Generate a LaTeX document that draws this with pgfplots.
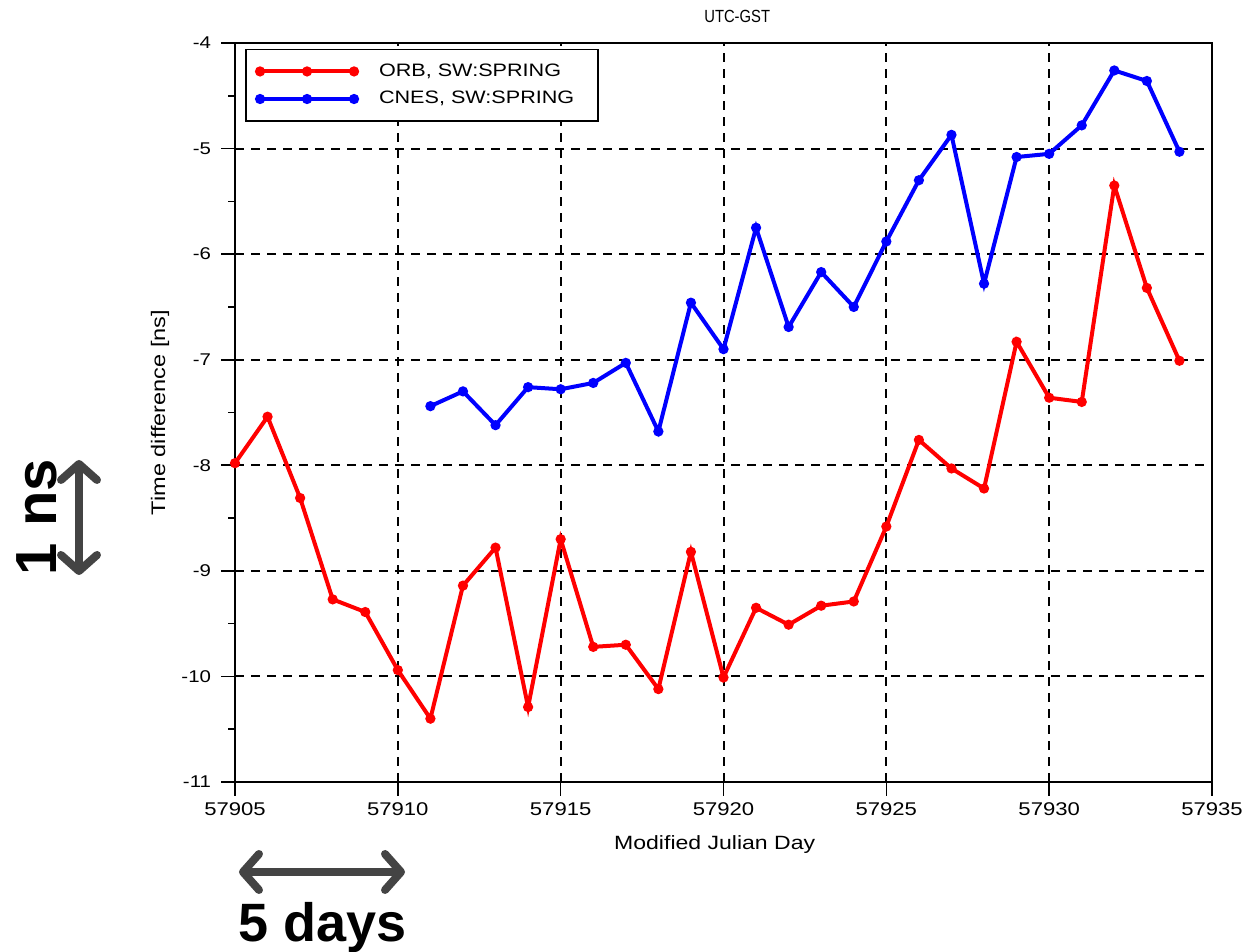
\documentclass[border=0pt]{standalone}
\usepackage{pgfplots}
\pgfplotsset{compat=1.18}
\usepackage{fontspec}
\setmainfont{Liberation Sans}[FakeStretch=1.2]
\newfontfamily\titlefont{Liberation Sans}[FakeStretch=0.84]
\newfontfamily\annotfont{Liberation Sans}
\usetikzlibrary{arrows.meta}
\definecolor{annotgray}{HTML}{444444}

\pgfplotstableread{
x y
57905 -7.98
57906 -7.54
57907 -8.31
57908 -9.27
57909 -9.39
57910 -9.94
57911 -10.40
57912 -9.14
57913 -8.78
57914 -10.29
57915 -8.70
57916 -9.72
57917 -9.70
57918 -10.12
57919 -8.82
57920 -10.01
57921 -9.35
57922 -9.51
57923 -9.33
57924 -9.29
57925 -8.58
57926 -7.76
57927 -8.03
57928 -8.22
57929 -6.83
57930 -7.36
57931 -7.40
57932 -5.35
57933 -6.32
57934 -7.01
}\orb

\pgfplotstableread{
x y
57911 -7.44
57912 -7.30
57913 -7.62
57914 -7.26
57915 -7.28
57916 -7.22
57917 -7.03
57918 -7.68
57919 -6.46
57920 -6.90
57921 -5.75
57922 -6.69
57923 -6.17
57924 -6.50
57925 -5.88
57926 -5.30
57927 -4.87
57928 -6.28
57929 -5.08
57930 -5.05
57931 -4.78
57932 -4.26
57933 -4.36
57934 -5.03
}\cnes

\begin{document}
\begin{tikzpicture}[x=0.5pt,y=0.5pt]
\useasboundingbox (0,0) rectangle (1243,952);
\begin{axis}[
  at={(117.5pt,85pt)}, anchor=south west,
  width=488.5pt, height=369.5pt, scale only axis,
  xmin=57905, xmax=57935, ymin=-11, ymax=-4,
  xtick={57905,57910,...,57935},
  ytick={-11,-10,...,-4},
  minor ytick={-10.5,-9.5,...,-4.5},
  scaled x ticks=false, scaled y ticks=false,
  /pgf/number format/1000 sep={},
  /pgf/number format/assume math mode=true,
  tick align=outside, xtick pos=left, ytick pos=left,
  major tick length=7pt, minor tick length=3.5pt,
  every tick/.style={black, line width=0.8pt},
  axis line style={black, line width=0.8pt},
  grid=major,
  major grid style={black, line width=1pt, dash pattern=on 4.5pt off 3.5pt},
  xticklabel style={font=\fontsize{9.2}{11}\selectfont},
  yticklabel style={font=\fontsize{8.5}{10}\selectfont, xshift=-1.5pt},
  title={UTC-GST},
  title style={at={(0.514,1)}, anchor=base, yshift=4.5pt, font=\titlefont\fontsize{8.8}{10}\selectfont},
  xlabel={Modified Julian Day},
  xlabel style={at={(axis description cs:0.491,-0.0853)}, anchor=center, font=\fontsize{9.6}{11}\selectfont},
  ylabel={Time difference [ns]},
  ylabel style={at={(axis description cs:-0.0768,0.5)}, anchor=center, font=\fontsize{9.8}{11}\selectfont},
  legend style={at={(0.0113,0.991)}, anchor=north west, draw=black, line width=0.8pt,
    fill=white, font=\fontsize{9}{10}\selectfont, row sep=0pt, outer sep=0pt,
    inner xsep=5.5pt, inner ysep=4pt,
    nodes={inner xsep=3.5pt, inner ysep=3pt},
    /tikz/every odd column/.append style={column sep=7.5pt}},
  legend cell align=left,
  legend image code/.code={\draw[#1] plot coordinates {(0pt,0pt) (23.5pt,0pt) (47pt,0pt)};},
]
\addplot[red, line width=2pt, mark=*, mark size=1.5pt] table[x=x,y=y] {\orb};
\addlegendentry{ORB, SW:SPRING}
\addplot[blue, line width=2pt, mark=*, mark size=1.5pt] table[x=x,y=y] {\cnes};
\addlegendentry{CNES, SW:SPRING\hspace*{3pt}}
\end{axis}
% annotations
\draw[annotgray, line width=4pt, {Straight Barb[length=8pt,width=18pt,round]}-{Straight Barb[length=8pt,width=18pt,round]}] (79,492) -- (79,377);
\node[black, rotate=90, font=\annotfont\bfseries\fontsize{29}{32}\selectfont, anchor=center] at (37,435) {1 ns};
\draw[annotgray, line width=4pt, {Straight Barb[length=8pt,width=18pt,round]}-{Straight Barb[length=8pt,width=18pt,round]}] (239,80) -- (405,80);
\node[black, font=\annotfont\bfseries\fontsize{27}{30}\selectfont, anchor=base west, inner sep=0pt] at (238,10) {5 days};
\end{tikzpicture}
\end{document}
